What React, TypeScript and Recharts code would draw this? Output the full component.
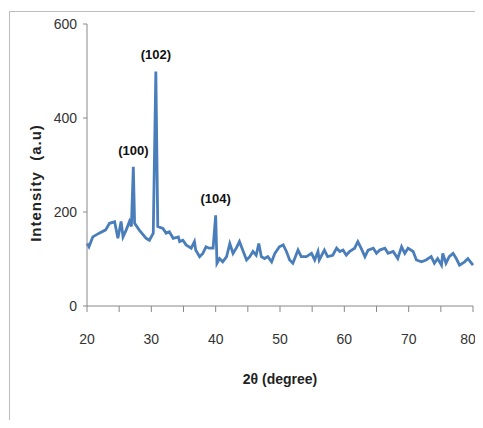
import { Line, LineChart, ReferenceDot, XAxis, YAxis, Label } from "recharts";

// 2-theta positions (degree) and intensity (a.u.)
const twoTheta = [
  20, 20.3, 20.9, 21.9, 22.9, 23.5, 24.3, 24.8, 25.3, 25.6, 26.1, 26.6, 26.9, 27.2, 27.4,
  28.1, 29.2, 29.7, 30.3, 30.7, 31.0, 31.8, 32.3, 32.8, 33.4, 34.2, 34.4, 34.9, 35.4, 36.2,
  36.7, 36.9, 37.5, 38.0, 38.5, 39.0, 39.6, 40.0, 40.2, 40.6, 41.1, 41.7, 42.2, 42.7, 43.2,
  43.7, 44.2, 44.8, 45.3, 45.8, 46.3, 46.7, 47.1, 47.6, 48.1, 48.7, 49.2, 49.9, 50.5, 51.0,
  51.5, 52.0, 52.8, 53.3, 54.1, 54.9, 55.4, 55.9, 56.1, 56.9, 57.4, 58.2, 58.8, 59.3, 59.8,
  60.3, 60.8, 61.6, 62.1, 62.6, 63.2, 63.7, 64.5, 65.0, 65.5, 66.3, 66.8, 67.6, 68.3, 68.9,
  69.4, 69.9, 70.7, 71.2, 72.0, 72.7, 73.5, 74.0, 74.5, 75.1, 75.3, 75.8, 76.3, 76.9, 77.4,
  77.9, 78.7, 79.2, 80,
];
const intensity = [
  133, 126, 147, 155, 162, 176, 179, 144, 180, 147, 162, 180, 169, 296, 176,
  162, 144, 140, 155, 499, 169, 165, 155, 158, 144, 147, 137, 140, 130, 123,
  137, 119, 105, 112, 126, 123, 123, 193, 91, 101, 94, 105, 133, 112, 123,
  137, 119, 98, 105, 116, 108, 133, 105, 101, 105, 94, 112, 126, 130, 116,
  98, 91, 119, 105, 105, 112, 98, 116, 98, 119, 105, 108, 123, 116, 119,
  108, 116, 123, 137, 123, 105, 119, 123, 112, 119, 123, 112, 116, 101, 126,
  112, 123, 116, 98, 94, 98, 105, 91, 101, 87, 112, 91, 105, 112, 101,
  87, 94, 101, 87,
];

const xTicks = [20, 25, 30, 35, 40, 45, 50, 55, 60, 65, 70, 75, 80];
const yTicks = [0, 200, 400, 600];

const peaks = [
  { x: 27.2, y: 296, label: "(100)" },
  { x: 30.7, y: 499, label: "(102)" },
  { x: 40.0, y: 193, label: "(104)" },
];

const data = twoTheta.map((t, i) => ({ t, v: intensity[i] }));

const font = "'Liberation Sans', Arial, sans-serif";

// rotated y title, nudged down like the original
const YTitle = ({ viewBox }: any) => {
  const cx = viewBox.x - 2;
  const cy = viewBox.y + viewBox.height / 2 + 18;
  return (
    <text
      x={cx}
      y={cy}
      transform={`rotate(-90, ${cx}, ${cy})`}
      textAnchor="middle"
      dominantBaseline="central"
      style={{ fill: "#222", fontSize: 15, fontWeight: "bold", fontFamily: font, letterSpacing: 1, whiteSpace: "pre" }}
    >
      {"Intensity\u00a0\u00a0(a.u)"}
    </text>
  );
};

export default function App() {
  return (
    <div style={{ position: "relative", width: 467, height: 412, background: "#fff" }}>
      <style>{"html,body{overflow:hidden} .recharts-surface{overflow:visible}"}</style>
      <div
        style={{
          position: "absolute",
          left: 1,
          top: 3,
          width: 474,
          height: 409,
          borderLeft: "1px solid #bdbdbd",
          borderTop: "1px solid #bdbdbd",
        }}
      />
      <div style={{ position: "absolute", left: 0, top: 0 }}>
        <LineChart width={467} height={412} data={data} margin={{ top: 16, right: 2, left: 29, bottom: 84 }}>
          <XAxis
            dataKey="t"
            type="number"
            domain={[20, 80]}
            ticks={xTicks}
            tickFormatter={(v: number) => (v % 10 === 0 ? String(v) : "")}
            tickSize={6}
            tickMargin={22}
            height={30}
            stroke="#888"
            tick={{ fill: "#333", fontSize: 14, fontFamily: font }}
          >
            <Label
              value="2θ (degree)"
              position="insideBottom"
              offset={-48}
              style={{ fill: "#222", fontSize: 14, fontWeight: "bold", fontFamily: font }}
            />
          </XAxis>
          <YAxis
            type="number"
            domain={[0, 600]}
            ticks={yTicks}
            tickSize={4}
            tickMargin={6}
            width={50}
            stroke="#888"
            tick={{ fill: "#333", fontSize: 14, fontFamily: font }}
          >
            <Label content={<YTitle />} />
          </YAxis>
          <Line
            dataKey="v"
            type="linear"
            stroke="#4a7ebb"
            strokeWidth={2.8}
            dot={false}
            isAnimationActive={false}
          />
          {peaks.map((p) => (
            <ReferenceDot
              key={p.label}
              x={p.x}
              y={p.y}
              r={0}
              stroke="none"
              fill="none"
              label={{
                value: p.label,
                position: "top",
                offset: 12,
                style: { fill: "#111", fontSize: 13, fontWeight: "bold", fontFamily: font },
              }}
            />
          ))}
        </LineChart>
      </div>
    </div>
  );
}
